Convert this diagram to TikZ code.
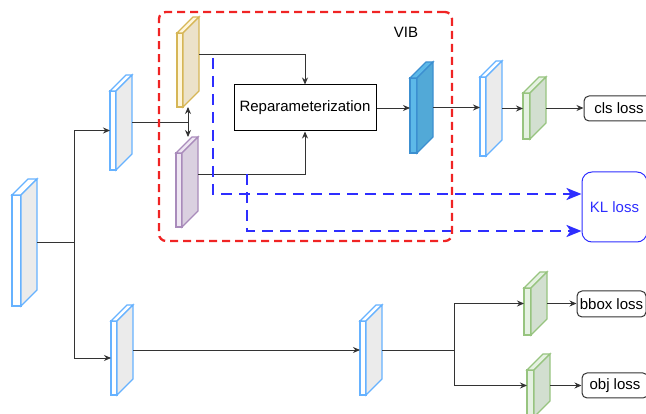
\documentclass[tikz,border=0pt]{standalone}
\usepackage{fontspec}
\setmainfont{Liberation Sans}
\usetikzlibrary{arrows.meta}

\definecolor{blueD}{HTML}{66B2FF}
\definecolor{blueF}{HTML}{FFFFFF}
\definecolor{blueS}{HTML}{EBEBEB}
\definecolor{yelD}{HTML}{D6B656}
\definecolor{yelF}{HTML}{FFF6DB}
\definecolor{yelS}{HTML}{ECE2CA}
\definecolor{purD}{HTML}{A98BBB}
\definecolor{purF}{HTML}{EEE6F2}
\definecolor{purS}{HTML}{DAD0E0}
\definecolor{grnD}{HTML}{97C47F}
\definecolor{grnF}{HTML}{E5F1E2}
\definecolor{grnS}{HTML}{D2DFD0}
\definecolor{zD}{HTML}{3C8FD0}
\definecolor{zF}{HTML}{5DB9E8}
\definecolor{zS}{HTML}{52A9D7}
\definecolor{klblue}{HTML}{2E2EFF}
\definecolor{vibred}{HTML}{F02424}

\newcommand{\diafont}{\fontsize{15pt}{18pt}\selectfont}

% [front width]{name}{x}{y top}{height}{colour}
\newcommand{\prism}[6][6]{%
  \filldraw[blk, draw=#6D, fill=#6F] (#3,#4+16) rectangle (#3+#1,#4+#5);
  \filldraw[blk, draw=#6D, fill=#6F] (#3,#4+16) -- (#3+16,#4) -- (#3+#1+16,#4) -- (#3+#1,#4+16) -- cycle;
  \filldraw[blk, draw=#6D, fill=#6S] (#3+#1,#4+16) -- (#3+#1+16,#4) -- (#3+#1+16,#4+#5-16) -- (#3+#1,#4+#5) -- cycle;
  \node[slot, minimum width=#1pt+16pt, minimum height=#5pt] (#2) at (#3+#1/2+8,#4+#5/2) {};
}

\begin{document}
\begin{tikzpicture}[x=1pt,y=-1pt,
  blk/.style={line width=1.3pt},
  slot/.style={draw=none,inner sep=0pt,outer sep=0pt},
  link/.style={draw=black!80,line width=0.9pt},
  arr/.style={link,-{Stealth[length=7pt,width=6pt]}},
  klarr/.style={draw=klblue,line width=2.4pt,dash pattern=on 11pt off 7pt,-{Stealth[length=15pt,width=12pt,inset=4pt]}},
  vib/.style={draw=vibred,line width=2.3pt,dash pattern=on 8pt off 5pt,rounded corners=7pt},
  loss/.style={draw=black!80,line width=1pt,rounded corners=5pt,font=\diafont,inner sep=0pt},
  repbox/.style={draw=black,line width=1pt,font=\diafont,minimum width=142pt,minimum height=46pt},
  klbox/.style={draw=klblue,line width=1pt,rounded corners=10pt,text=klblue,font=\diafont,minimum width=65pt,minimum height=70pt}]
\useasboundingbox (0,0) rectangle (646,414);

\prism[9]{inp}{12}{179}{127}{blue}
\prism{upper}{110}{75}{95}{blue}
\prism{lower}{111}{305}{90}{blue}
\prism{mid}{360}{305}{90}{blue}
\prism{mu}{177}{17}{90}{yel}
\prism{logvar}{176}{137}{90}{pur}
\prism[7]{zfeat}{410}{62}{91}{z}
\prism{clsfc}{480}{61}{95}{blue}
\prism[7]{clshead}{523}{77}{62}{grn}
\prism[7]{bboxhead}{524}{272}{63}{grn}
\prism[7]{objhead}{527}{354}{63}{grn}

\node[repbox] (rep) at (305,108) {Reparameterization};
\node[loss, minimum width=70pt, minimum height=25pt] (clsloss) at (619,108.5) {cls loss};
\node[loss, minimum width=69pt, minimum height=26pt] (bboxloss) at (611.5,304) {bbox loss};
\node[loss, minimum width=66pt, minimum height=25pt] (objloss) at (615,385.5) {obj loss};
\node[klbox] (kl) at (614.5,207) {KL loss};
\node[font=\diafont] (viblabel) at (406,32) {VIB};

% backbone branches
\draw[arr] (inp.east) -- ++(37,0) |- ([yshift=-8pt]upper.west);
\draw[arr] (inp.east) -- ++(37,0) |- ([yshift=-8pt]lower.west);
\draw[link] (upper.east) -- (upper.east -| mu.south);
\draw[link,{Stealth[length=7pt,width=6pt]}-{Stealth[length=7pt,width=6pt]}] (mu.south) -- (mu.south |- logvar.north);
\draw[arr] ([yshift=8pt]mu.east) -| (rep.north);
\draw[arr] ([yshift=8pt]logvar.east) -| (rep.south);
\foreach \a/\b in {rep/zfeat,zfeat/clsfc,clsfc/clshead,clshead/clsloss,lower/mid,bboxhead/bboxloss,objhead/objloss} {
  \draw[arr] (\a.east) -- (\a.east -| \b.west);
}
\draw[arr] (mid.east) -- ++(72,0) |- (bboxhead.west);
\draw[arr] (mid.east) -- ++(72,0) |- (objhead.west);

% KL terms
\coordinate (tapmu) at (213,58);
\coordinate (tapvar) at (247,174);
\draw[klarr] (tapmu) |- ([yshift=13pt]kl.west);
\draw[klarr] (tapvar) |- ([yshift=-24pt]kl.west);

\node[vib, minimum width=293pt, minimum height=229pt] (vibbox) at (305.5,126.5) {};
\end{tikzpicture}
\end{document}
